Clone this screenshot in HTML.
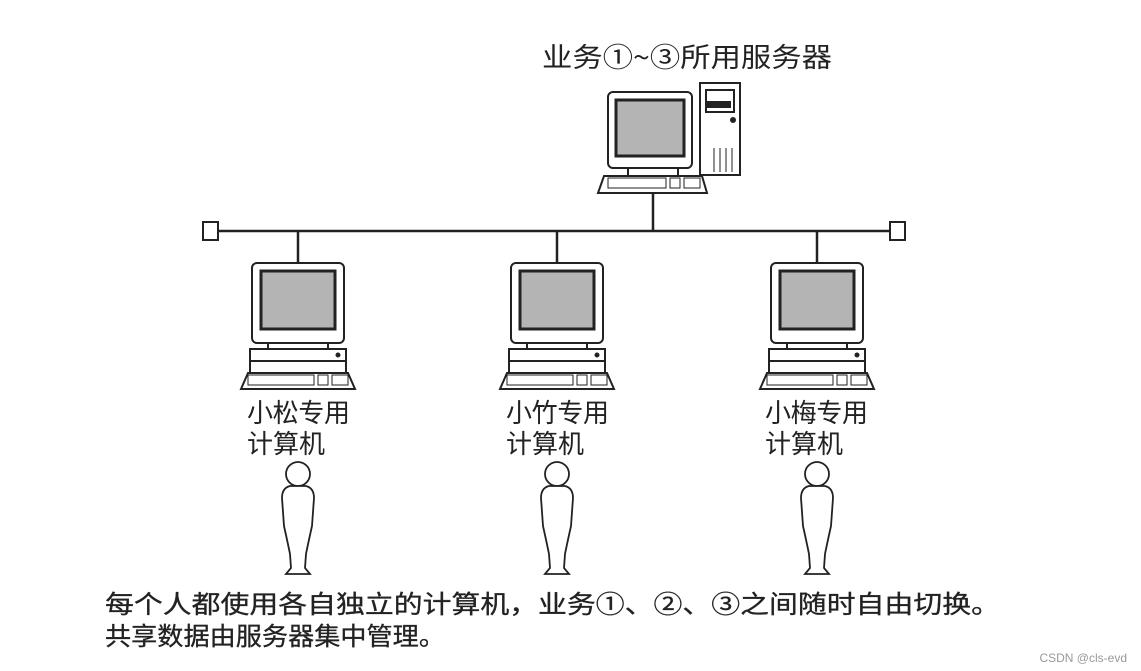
<!DOCTYPE html>
<html><head><meta charset="utf-8">
<style>
html,body{margin:0;padding:0;background:#fff;}
svg{display:block;}
text{font-family:"Noto Sans CJK SC","WenQuanYi Zen Hei",sans-serif;fill:#222;}
</style></head>
<body>
<svg width="1141" height="671" viewBox="0 0 1141 671" xmlns="http://www.w3.org/2000/svg">
<defs>
<g id="pc" stroke="#222" stroke-width="2" fill="#fff">
  <rect x="-46" y="0" width="92" height="80" rx="5"/>
  <rect x="-37" y="8" width="74" height="58" fill="#b4b4b4" stroke-width="3"/>
  <rect x="-30" y="80" width="60" height="6"/>
  <rect x="-48" y="86" width="96" height="24"/>
  <line x1="-48" y1="98" x2="48" y2="98"/>
  <circle cx="40" cy="92" r="1.5" fill="#222"/>
  <path d="M-50 110 L50 110 L57 126 L-57 126 Z"/>
  <rect x="-50" y="112" width="66" height="10" stroke-width="1"/>
  <rect x="20" y="112" width="10" height="10" stroke-width="1"/>
  <rect x="34" y="112" width="16" height="10" stroke-width="1"/>
</g>
<g id="person" stroke="#222" stroke-width="1.8" fill="#fff">
  <circle cx="0" cy="0" r="12"/>
  <path d="M-8 12 Q-16 14 -16 24 L-14 52 Q-10 70 -8 80 L-7 94 L-12 100 L12 100 L7 94 L8 80 Q10 70 14 52 L16 24 Q16 14 8 12 Z"/>
</g>
</defs>

<text x="542" y="67" font-size="27" textLength="290" lengthAdjust="spacingAndGlyphs">业务①~③所用服务器</text>

<g stroke="#222" stroke-width="2" fill="#fff">
  <rect x="608" y="92" width="84" height="76" rx="5"/>
  <rect x="616" y="100" width="68" height="56" fill="#b4b4b4" stroke-width="3"/>
  <rect x="628" y="168" width="50" height="8"/>
  <rect x="700" y="83" width="40" height="92"/>
  <rect x="706" y="90" width="28" height="22"/>
  <rect x="708" y="102" width="22" height="5" fill="#222"/>
  <circle cx="733" cy="120" r="2" fill="#222"/>
  <line x1="714" y1="148" x2="714" y2="172" stroke-width="1"/>
  <line x1="720" y1="148" x2="720" y2="172" stroke-width="1"/>
  <line x1="726" y1="148" x2="726" y2="172" stroke-width="1"/>
  <line x1="732" y1="148" x2="732" y2="172" stroke-width="1"/>
  <path d="M604 176 L702 176 L707 193 L598 193 Z"/>
  <rect x="608" y="178" width="58" height="10" stroke-width="1"/>
  <rect x="670" y="178" width="10" height="10" stroke-width="1"/>
  <rect x="684" y="178" width="16" height="10" stroke-width="1"/>
</g>
<line x1="653" y1="193" x2="653" y2="230" stroke="#222" stroke-width="2.5"/>

<line x1="218" y1="231" x2="890" y2="231" stroke="#222" stroke-width="2.5"/>
<rect x="203" y="222" width="15" height="18" fill="#fff" stroke="#222" stroke-width="2"/>
<rect x="890" y="222" width="15" height="18" fill="#fff" stroke="#222" stroke-width="2"/>
<line x1="298" y1="231" x2="298" y2="263" stroke="#222" stroke-width="2.5"/>
<line x1="557" y1="231" x2="557" y2="263" stroke="#222" stroke-width="2.5"/>
<line x1="817" y1="231" x2="817" y2="263" stroke="#222" stroke-width="2.5"/>

<use href="#pc" x="298" y="263"/>
<use href="#pc" x="557" y="263"/>
<use href="#pc" x="817" y="263"/>

<text x="247" y="422" font-size="26" textLength="103">小松专用</text>
<text x="247" y="453" font-size="26" textLength="78">计算机</text>
<text x="506" y="422" font-size="26" textLength="103">小竹专用</text>
<text x="506" y="453" font-size="26" textLength="78">计算机</text>
<text x="765" y="422" font-size="26" textLength="103">小梅专用</text>
<text x="765" y="453" font-size="26" textLength="78">计算机</text>

<use href="#person" x="298" y="474"/>
<use href="#person" x="557" y="474"/>
<use href="#person" x="817" y="474"/>

<text x="105" y="613" font-size="25" textLength="895" lengthAdjust="spacingAndGlyphs" stroke="#222" stroke-width="0.3">每个人都使用各自独立的计算机，业务①、②、③之间随时自由切换。</text>
<text x="105" y="645" font-size="25" textLength="340" lengthAdjust="spacingAndGlyphs" stroke="#222" stroke-width="0.3">共享数据由服务器集中管理。</text>

<text x="1127" y="662" font-size="12" text-anchor="end" style="font-family:'Liberation Sans',sans-serif;fill:#999">CSDN @cls-evd</text>
</svg>
</body></html>
